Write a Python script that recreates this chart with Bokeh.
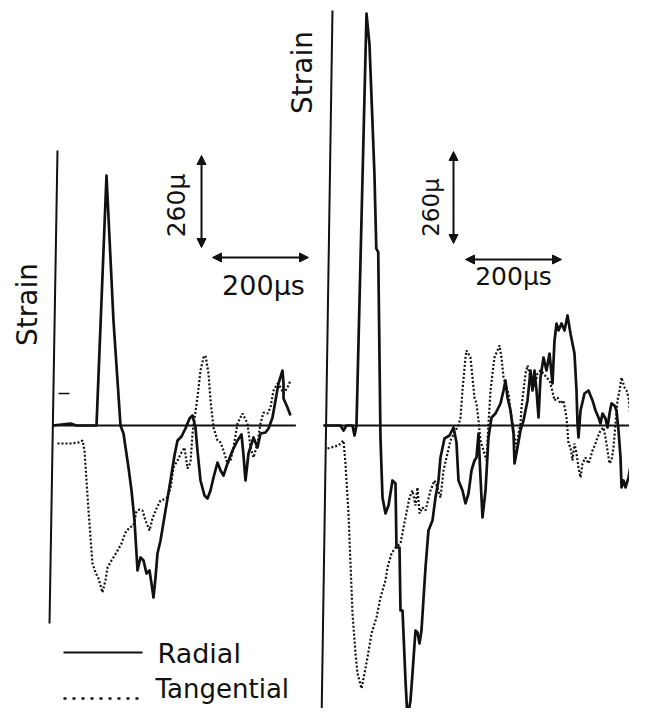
from bokeh.plotting import figure
from bokeh.models import Range1d, Label, Arrow, NormalHead
from bokeh.embed import file_html
from bokeh.resources import INLINE
import math

# ---------------- data (time in microseconds, strain in micro-strain) ----------------
# Left panel
left_radial_t = [0, 37.5, 50, 91.7, 112.5, 127, 141.7, 147.9, 158.3, 164.6, 170.8, 175, 177.1, 183.3,
                 189.6, 195.8, 202.1, 206.2, 210.4, 214.6, 218.7, 225, 235.4, 245.8, 254.1, 260.4,
                 268.7, 277, 285.4, 291.6, 297.9, 302, 308.3, 316.6, 322.9, 329.1, 335.4, 343.7,
                 350, 356.2, 364.5, 375, 385.4, 393.7, 397.9, 402, 408.3, 418.7, 427, 433.3, 443.7,
                 450, 458.3, 464.5, 470.8, 479.1, 481.2, 481.2, 489.5, 495.8]
left_radial_s = [0, 5.7, 0, 0, 706.5, 296.7, 0, -22.6, -118.7, -183.7, -268.5, -361.7, -409.8, -373,
                 -381.5, -418.2, -409.8, -446.5, -486.1, -429.6, -361.7, -325, -240.2, -155.4, -84.8,
                 -42.4, -31.1, -8.5, 19.8, 28.3, -5.7, -70.7, -155.4, -197.8, -206.3, -183.7, -147,
                 -104.6, -127.2, -141.3, -107.4, -70.7, -42.4, -25.4, -84.8, -155.4, -79.1, -33.9,
                 -62.2, -22.6, -19.8, -8.5, 22.6, 70.7, 118.7, 155.4, 118.7, 76.3, 50.9, 28.3]

left_tang_t = [10.4, 37.5, 54.2, 62.5, 66.7, 70.8, 75, 79.2, 83.3, 89.6, 95.8, 100, 104.1, 110.4, 114.6,
               122.9, 133.3, 143.7, 152, 160.4, 168.7, 175, 181.2, 187.5, 193.7, 202.1, 208.3, 216.6,
               225, 237.5, 245.8, 252, 260.4, 268.7, 275, 281.2, 287.5, 291.6, 295.8, 302, 308.3,
               314.5, 318.7, 325, 329.1, 335.4, 343.7, 350, 356.2, 364.5, 370.8, 377, 385.4, 395.8,
               406.2, 412.4, 418.7, 427, 433.3, 439.5, 447.9, 454.1, 460.4, 468.7, 475, 481.2, 489.5,
               495.8]
left_tang_s = [-50.9, -50.9, -48, -42.4, -70.7, -155.4, -240.2, -316.5, -390, -415.4, -432.4, -452.2,
               -471.9, -438, -401.3, -381.5, -358.9, -333.5, -302.4, -288.3, -282.6, -243, -237.4,
               -240.2, -268.5, -296.7, -262.8, -234.6, -212, -206.3, -178, -118.7, -98.9, -76.3, -62.2,
               -121.5, -104.6, -22.6, 19.8, 79.1, 155.4, 192.2, 197.8, 147, 70.7, -5.7, -42.4, -48,
               -70.7, -107.4, -98.9, -62.2, 5.7, 33.9, 5.7, -62.2, -90.4, -50.9, 5.7, 36.7, 33.9, 50.9,
               98.9, 118.7, 107.4, 90.4, 107.4, 127.2]

# Right panel
right_radial_t = [0, 35.4, 41.7, 47.9, 60.4, 64.6, 68.7, 89.6, 95.8, 106, 110, 114, 118.7, 122.9, 129.1,
                  135.4, 143.7, 150, 152, 158.3, 160.4, 164.6, 170.8, 175, 181.2, 185.4, 191.6, 195.8,
                  200, 204.1, 212.5, 218.7, 227, 233.3, 239.5, 243.7, 252, 262.4, 270.8, 277, 281.2,
                  289.5, 295.8, 302, 308.3, 314.5, 318.7, 322.9, 327, 331.2, 337.5, 343.7, 350, 358.3,
                  368.7, 375, 379.1, 383.3, 389.5, 395.8, 397.9, 404.1, 410.4, 416.6, 425, 431.2, 435.4,
                  439.5, 443.7, 447.9, 452, 458.3, 464.5, 470.8, 477, 481.2, 485.4, 489.5, 495.8, 502,
                  508.3, 514.5, 522.8, 527, 529.1, 531.2, 535.4, 543.7, 552, 560.3, 566.6, 572.8, 577,
                  581.2, 587.4, 591.6, 595.8, 599.9, 606.2, 610.3, 614.5, 618.7, 620.8, 624.9, 629.1,
                  635.3, 641.6, 647.8, 652]
right_radial_s = [0, 0, -14.1, 0, 0, -28.3, 0, 1164.3, 1077, 715, 500, 490, -36.7, -203.5, -248.7,
                  -226.1, -155.4, -163.9, -344.8, -344.8, -522.8, -522.8, -720.6, -830, -777.1, -700.8,
                  -579.3, -585, -616, -579.3, -401.3, -296.7, -268.5, -203.5, -155.4, -90.4, -36.7,
                  -28.3, -5.7, -48, -155.4, -183.7, -220.4, -192.2, -127.2, -98.9, -90.4, -22.6, -147,
                  -260, -183.7, -33.9, 22.6, 33.9, 62.2, 98.9, 127.2, 79.1, 42.4, -22.6, -107.4, -62.2,
                  -14.1, 14.1, 70.7, 155.4, 98.9, 155.4, 98.9, 22.6, 135.6, 192.2, 155.4, 203.5, 118.7,
                  240.2, 288.3, 268.5, 288.3, 268.5, 310.9, 260, 203.5, 98.9, 5.7, -33.9, 42.4, 90.4,
                  98.9, 70.7, 42.4, 22.6, 5.7, 33.9, 19.8, -5.7, 33.9, 62.2, 56.5, 42.4, -14.1, -90.4,
                  -175.2, -155.4, -175.2, -147, -98.9, -50.9, -22.6]

right_tang_t = [8.3, 31.2, 41.7, 45.8, 52.1, 56.2, 60.4, 66.7, 70.8, 79.2, 85.4, 91.7, 100, 110.4, 118.7,
                129.1, 133.3, 141.7, 150, 160.4, 170.8, 179.1, 185.4, 191.6, 195.8, 200, 206.2, 212.5,
                222.9, 231.2, 237.5, 243.7, 250, 256.2, 264.5, 275, 281.2, 285.4, 289.5, 295.8, 297.9,
                306.2, 310.4, 314.5, 318.7, 322.9, 327, 333.3, 339.5, 343.7, 347.9, 352, 356.2, 362.4,
                366.6, 370.8, 375, 381.2, 385.4, 389.5, 393.7, 397.9, 402, 406.2, 410.4, 412.4, 416.6,
                420.8, 425, 431.2, 435.4, 439.5, 445.8, 452, 458.3, 464.5, 470.8, 474.9, 481.2, 487.4,
                493.7, 499.9, 506.2, 508.3, 510.3, 514.5, 518.7, 522.8, 527, 531.2, 535.4, 539.5, 545.8,
                552, 556.2, 560.3, 566.6, 570.7, 577, 583.3, 587.4, 591.6, 595.8, 599.9, 604.1, 608.3,
                612.4, 616.6, 620.8, 627, 631.2, 635.3, 639.5, 643.7, 647.8, 652]
right_tang_s = [-65, -56.5, -42.4, -107.4, -248.7, -390, -531.3, -644.3, -700.8, -743.2, -700.8, -655.6,
                -587.8, -542.6, -486.1, -438, -401.3, -361.7, -344.8, -333.5, -260, -203.5, -183.7,
                -226.1, -175.2, -248.7, -231.7, -240.2, -183.7, -155.4, -175.2, -203.5, -127.2, -90.4,
                -42.4, -14.1, 0, 22.6, 98.9, 192.2, 212, 192.2, 135.6, 79.1, 62.2, 14.1, -42.4, -70.7,
                -98.9, 5.7, 98.9, 147, 192.2, 212, 226.1, 192.2, 135.6, 107.4, 90.4, 42.4, 5.7, -33.9,
                -62.2, -22.6, 5.7, 50.9, 98.9, 147, 169.6, 135.6, 127.2, 107.4, 147, 155.4, 147, 135.6,
                127.2, 107.4, 70.7, 79.1, 62.2, 70.7, 22.6, -14.1, -50.9, -62.2, -98.9, -50.9, -79.1,
                -118.7, -147, -107.4, -90.4, -107.4, -90.4, -70.7, -50.9, -33.9, -14.1, -5.7, -33.9,
                -70.7, -107.4, -98.9, -62.2, 5.7, 70.7, 98.9, 135.6, 107.4, 98.9, 79.1, 22.6, -14.1,
                -42.4, -50.9]

# scale bars
strain_bar = 260   # micro-strain
time_bar = 200     # microseconds
strain_label = "260\u03bc"
time_label = "200\u03bcs"
axis_label = "Strain"
legend_labels = ["Radial", "Tangential"]

# ---------------- figure ----------------
FONT = "DejaVu Sans"
p = figure(width=629, height=708, x_range=Range1d(-108.3, 1201.9), y_range=Range1d(-799.8, 1201.1),
           output_backend="svg", toolbar_location=None, min_border=0,
           x_axis_type=None, y_axis_type=None)
p.extra_x_ranges = {"rx": Range1d(-672.8, 637.4)}
p.outline_line_color = None
p.xgrid.visible = False
p.ygrid.visible = False
p.background_fill_color = "white"
p.border_fill_color = "white"

INK = "#111111"

# axes of left panel
p.line([10.4, -6.2], [777.1, -559.5], line_color=INK, line_width=2)
p.line([0, 507], [0, 0], line_color=INK, line_width=2)
p.line([12.5, 35.4], [90.4, 90.4], line_color=INK, line_width=1.5)
# axes of right panel
p.line([18.7, -4.2], [1172.8, -845], line_color=INK, line_width=2, x_range_name="rx")
p.line([0, 660], [0, 0], line_color=INK, line_width=2, x_range_name="rx")

# traces
p.line(left_radial_t, left_radial_s, line_color=INK, line_width=2.7, line_join="round")
p.line(left_tang_t, left_tang_s, line_color=INK, line_width=2.2, line_dash="2 2")
p.line(right_radial_t, right_radial_s, line_color=INK, line_width=2.7, line_join="round", x_range_name="rx")
p.line(right_tang_t, right_tang_s, line_color=INK, line_width=2.2, line_dash="2 2", x_range_name="rx")

# scale-bar arrows
def head():
    return NormalHead(size=9, fill_color=INK, line_color=INK, line_width=1)

p.add_layout(Arrow(start=head(), end=head(), x_start=310.4, y_start=503, x_end=310.4, y_end=503 + strain_bar,
                   line_color=INK, line_width=2))
p.add_layout(Arrow(start=head(), end=head(), x_start=333.3, y_start=474.8, x_end=333.3 + time_bar, y_end=474.8,
                   line_color=INK, line_width=2))
p.add_layout(Arrow(start=head(), end=head(), x_start=270.8, y_start=514.3, x_end=270.8, y_end=514.3 + strain_bar,
                   line_color=INK, line_width=2, x_range_name="rx"))
p.add_layout(Arrow(start=head(), end=head(), x_start=295.8, y_start=469.1, x_end=295.8 + time_bar, y_end=469.1,
                   line_color=INK, line_width=2, x_range_name="rx"))

# texts
def lab(x, y, text, size, angle=0, xr="default", align="center", baseline="middle"):
    p.add_layout(Label(x=x, y=y, text=text, angle=angle, text_font=FONT, text_font_size=size,
                       text_color=INK, text_align=align, text_baseline=baseline, x_range_name=xr))

lab(-52.1, 342, axis_label, "28px", angle=math.pi / 2)
lab(-43.7, 997.6, axis_label, "28px", angle=math.pi / 2, xr="rx")
lab(258.3, 621.7, strain_label, "25px", angle=math.pi / 2)
lab(222.9, 616.1, strain_label, "23px", angle=math.pi / 2, xr="rx")
lab(439.5, 395.6, time_label, "27px")
lab(395.8, 421.1, time_label, "25px", xr="rx")

# legend
p.line([22.9, 187.5], [-641.5, -641.5], line_color=INK, line_width=2)
p.line([22.9, 187.5], [-771.5, -771.5], line_color=INK, line_width=2.4, line_dash="3 6")
lab(218.7, -644.3, legend_labels[0], "27px", align="left", baseline="alphabetic")
lab(214.6, -746.0, legend_labels[1], "26px", align="left", baseline="alphabetic")

open("out.html", "w").write(file_html(p, INLINE))
